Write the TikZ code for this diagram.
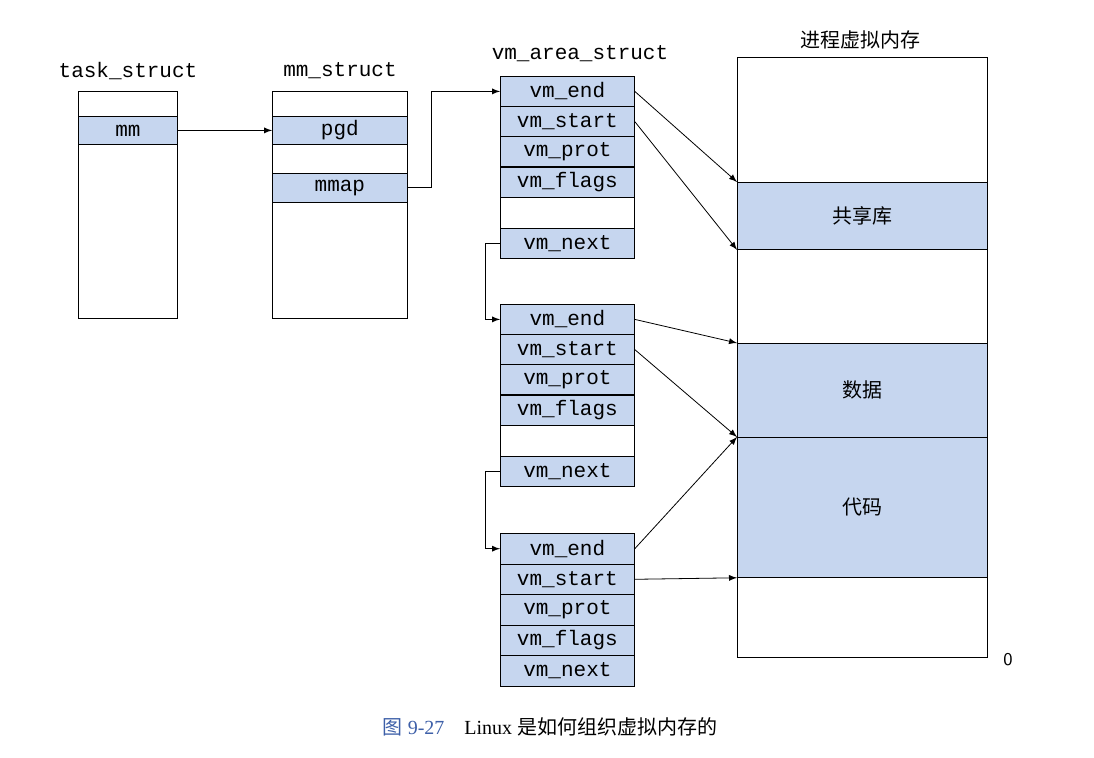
\documentclass[tikz,border=0pt]{standalone}
\usepackage{fontspec}
\setmonofont{Liberation Mono}
\setmainfont{Liberation Serif}
\newfontfamily\cjk{Noto Sans CJK SC}
\usetikzlibrary{positioning}
\definecolor{fieldblue}{HTML}{C6D6EF}
\definecolor{capblue}{HTML}{3D5FA8}
\tikzset{font=\fontsize{10.5}{12}\ttfamily}
\tikzset{
  box/.style={draw,thin,inner sep=0pt},
  field/.style={draw,thin,fill=fieldblue,inner sep=0pt,anchor=north west},
  link/.style={thin,-latex},
}
\begin{document}
\begin{tikzpicture}[x=0.5pt,y=-0.5pt]
  \useasboundingbox (0,0) rectangle (1094,758);
  % task_struct and mm_struct
  \draw[box] (78,91) rectangle (177,318);
  \node (mm) [field,minimum width=49.5pt,minimum height=14pt] at (78,116) {mm};
  \node at (128,71) {task\_struct};
  \draw[box] (272,91) rectangle (407,318);
  \node (pgd) [field,minimum width=67.5pt,minimum height=14pt] at (272,116) {pgd};
  \node (mmap) [field,minimum width=67.5pt,minimum height=14.5pt] at (272,173) {mmap};
  \node at (340,71) {mm\_struct};
  \node at (580,54) {vm\_area\_struct};
  % vm_area_struct chain
  \foreach \i/\top in {1/76,2/304} {
    \draw[box] (500,\top) rectangle (634,\top+182);
    \foreach \f/\k in {end/0,start/1,prot/2,flags/3}
      \node (\f\i) [field,minimum width=67pt,minimum height=15pt] at (500,\top+\k*30.2) {vm\_\f};
    \node (next\i) [field,minimum width=67pt,minimum height=15pt] at (500,\top+152) {vm\_next};
  }
  \foreach \f/\k in {end/0,start/1,prot/2,flags/3,next/4}
    \node (\f3) [field,minimum width=67pt,minimum height=15.3pt] at (500,533+\k*30.6) {vm\_\f};
  % process virtual memory
  \draw[box] (737,57) rectangle (987,657);
  \node (lib) [field,minimum width=125pt,minimum height=33.5pt,font=\cjk\fontsize{10}{12}\selectfont] at (737,182) {共享库};
  \node (data) [field,minimum width=125pt,minimum height=47pt,font=\cjk\fontsize{10}{12}\selectfont] at (737,343) {数据};
  \node (code) [field,minimum width=125pt,minimum height=70pt,font=\cjk\fontsize{10}{12}\selectfont] at (737,437) {代码};
  \node[font=\cjk\fontsize{10}{12}\selectfont] at (860,40) {进程虚拟内存};
  \node[font=\fontsize{9}{11}\sffamily] at (1008,660) {0};
  % links
  \draw[link] (mm.east) -- (pgd.west);
  \draw[link] (mmap.east) -- ++(24,0) |- (end1.west);
  \draw[link] (next1.west) -- ++(-15,0) |- (end2.west);
  \draw[link] (next2.west) -- ++(-15,0) |- (end3.west);
  \draw[link] (end1.east) -- (lib.north west);
  \draw[link] (start1.east) -- (lib.south west);
  \draw[link] (end2.east) -- (data.north west);
  \draw[link] (start2.east) -- (code.north west);
  \draw[link] (end3.east) -- (code.north west);
  \draw[link] (start3.east) -- (code.south west);
  % caption
  \node[font=\rmfamily\fontsize{10}{12}\selectfont] at (550,727)
    {{\color{capblue}{\cjk 图} 9-27}\quad Linux {\cjk 是如何组织虚拟内存的}};
\end{tikzpicture}
\end{document}
